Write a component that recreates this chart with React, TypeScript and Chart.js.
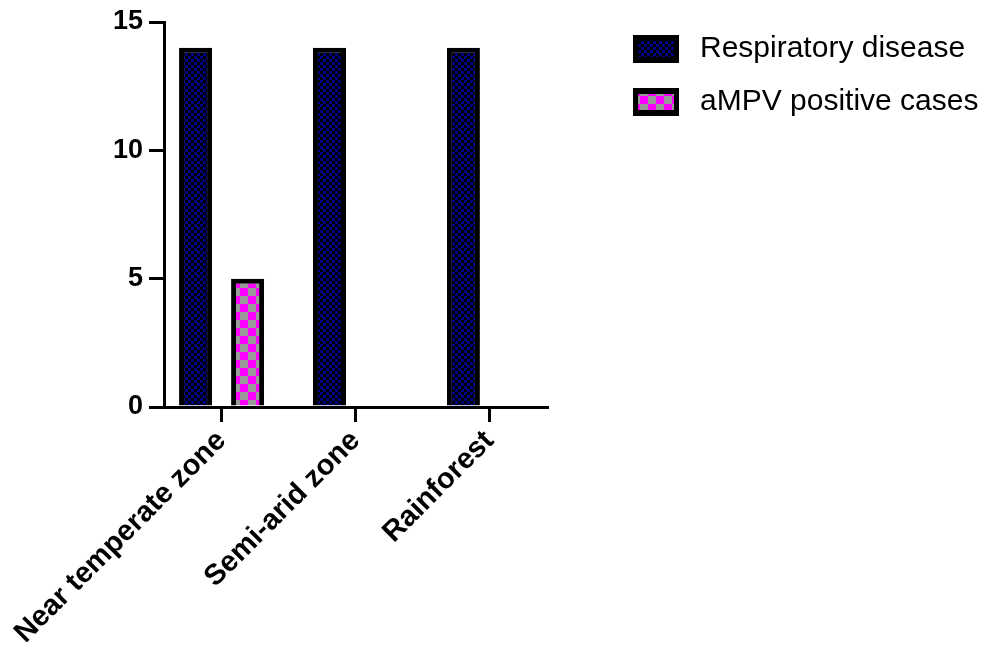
import React, { useEffect, useRef } from 'react';
import { Chart, registerables } from 'chart.js';

Chart.register(...registerables);

const categories = ['Near temperate zone', 'Semi-arid zone', 'Rainforest'];
const respiratoryDisease = [14, 14, 14];
const ampvPositiveCases = [5, 0, 0];
const seriesNames = ['Respiratory disease', 'aMPV positive cases'];
const yTickValues = [0, 5, 10, 15];

const FONT = "'Liberation Sans', Arial, sans-serif";

function makeChecker(ctx: CanvasRenderingContext2D, base: string, accent: string, cell: number) {
  const cv = document.createElement('canvas');
  cv.width = cell * 2;
  cv.height = cell * 2;
  const g = cv.getContext('2d')!;
  g.fillStyle = base;
  g.fillRect(0, 0, cell * 2, cell * 2);
  g.fillStyle = accent;
  g.fillRect(0, 0, cell, cell);
  g.fillRect(cell, cell, cell, cell);
  return ctx.createPattern(cv, 'repeat')!;
}

const legendPlugin = {
  id: 'boxLegend',
  afterDraw(chart: any) {
    const ctx = chart.ctx as CanvasRenderingContext2D;
    const area = chart.chartArea;
    const bx = area.right + 86;
    chart.data.datasets.forEach((ds: any, i: number) => {
      const by = area.top + 13 + i * 53;
      ctx.save();
      ctx.fillStyle = '#000';
      ctx.fillRect(bx, by, 46, 28);
      ctx.fillStyle = ds.backgroundColor;
      ctx.fillRect(bx + 5, by + 6, 36, 16);
      ctx.fillStyle = '#000';
      ctx.font = `30px ${FONT}`;
      ctx.textBaseline = 'middle';
      ctx.textAlign = 'left';
      ctx.fillText(ds.label, bx + 67, by + 14);
      ctx.restore();
    });
  },
};

export default function App() {
  const canvasRef = useRef<HTMLCanvasElement | null>(null);

  useEffect(() => {
    const canvas = canvasRef.current!;
    const ctx = canvas.getContext('2d')!;
    const navy = makeChecker(ctx, '#000000', '#000080', 3);
    const pink = makeChecker(ctx, '#999999', '#ff00ff', 8);

    const axisGrid = {
      display: true,
      drawOnChartArea: false,
      drawTicks: true,
      tickLength: 15,
      tickWidth: 3,
      tickColor: '#000',
      lineWidth: 3,
      color: '#000',
      offset: false,
    };
    const axisBorder = { display: true, color: '#000', width: 3, z: 1 };

    const chart = new Chart(ctx, {
      type: 'bar',
      data: {
        datasets: [
          {
            label: seriesNames[0],
            data: respiratoryDisease.map((v, i) => ({ x: i, y: v })),
            backgroundColor: navy as any,
            borderColor: '#000',
            borderWidth: 5,
            borderSkipped: 'start',
            categoryPercentage: 0.777,
            barPercentage: 0.635,
          },
          {
            label: seriesNames[1],
            data: ampvPositiveCases.map((v, i) => ({ x: i, y: v })),
            backgroundColor: pink as any,
            borderColor: '#000',
            borderWidth: 5,
            borderSkipped: 'start',
            categoryPercentage: 0.777,
            barPercentage: 0.635,
          },
        ],
      },
      options: {
        animation: false,
        responsive: true,
        maintainAspectRatio: false,
        layout: { padding: { top: 14, right: 438, left: 0, bottom: 0 } },
        plugins: { legend: { display: false }, tooltip: { enabled: false } },
        scales: {
          x: {
            type: 'linear',
            min: -0.43,
            max: 2.43,
            offset: false,
            afterBuildTicks: (s: any) => {
              s.ticks = categories.map((_, i) => ({ value: i }));
            },
            afterFit: (s: any) => {
              s.height = 243;
              s.paddingLeft = 0;
              s.paddingRight = 0;
            },
            grid: axisGrid,
            border: axisBorder,
            ticks: {
              autoSkip: false,
              maxRotation: 45,
              minRotation: 45,
              padding: 2,
              color: '#000',
              font: { family: FONT, size: 29, weight: 'bold' },
              callback: (v: any) => categories[v as number] ?? '',
            },
          },
          y: {
            min: 0,
            max: 15,
            afterBuildTicks: (s: any) => {
              s.ticks = yTickValues.map((v) => ({ value: v }));
            },
            afterFit: (s: any) => {
              s.width = 156;
              s.paddingTop = 0;
              s.paddingBottom = 0;
            },
            grid: axisGrid,
            border: axisBorder,
            ticks: {
              padding: 6,
              color: '#000',
              font: { family: FONT, size: 27, weight: 'bold' },
            },
          },
        },
      } as any,
      plugins: [legendPlugin],
    });
    return () => chart.destroy();
  }, []);

  return (
    <div style={{ position: 'relative', width: 977, height: 642, marginBottom: -8 }}>
      <canvas ref={canvasRef} />
    </div>
  );
}
